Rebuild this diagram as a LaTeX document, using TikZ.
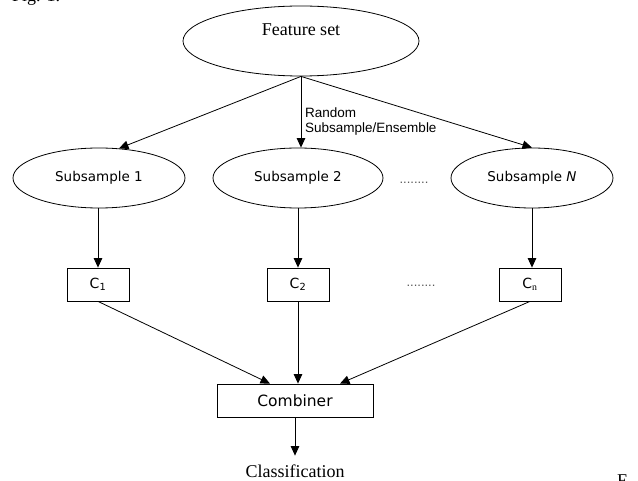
\documentclass[tikz,border=0pt]{standalone}
\usepackage{fontspec}
\setmainfont{DejaVu Sans}
\newfontfamily\timesf{Liberation Serif}
\newfontfamily\arialf{Liberation Sans}
\usetikzlibrary{arrows.meta,shapes.geometric}
\begin{document}
\begin{tikzpicture}[x=1pt,y=-1pt,
  ell/.style={draw, ellipse, line width=0.8pt, inner sep=0pt, font=\fontsize{13.5}{16}\selectfont},
  boxnode/.style={draw, rectangle, line width=0.8pt, inner sep=0pt},
  arr/.style={-{Triangle[length=9.5pt,width=8.5pt]}, line width=0.8pt},
  dotsnode/.style={font=\arialf\fontsize{13}{15}\selectfont, text=black!65, anchor=base, inner sep=0pt},
  serifbig/.style={font=\timesf\fontsize{18}{20}\selectfont, inner sep=0pt}]
\useasboundingbox (0,0) rectangle (638,481);
\clip (0,0) rectangle (638,481);
\fill[white] (0,0) rectangle (638,481);
% top ellipse
\node[ell, minimum width=236pt, minimum height=70pt] (fs) at (301,41) {};
\node[serifbig] (fst) at (301,30) {Feature set};
% subsamples
\node[ell, minimum width=172pt, minimum height=60pt] (s1) at (99,178) {Subsample 1};
\node[ell, minimum width=170pt, minimum height=60pt] (s2) at (298,178) {Subsample 2};
\node[ell, minimum width=162pt, minimum height=60pt] (s3) at (532,178) {Subsample \textit{N}};
\node[dotsnode] (d1) at (414,184) {........};
% label
\node[font=\arialf\fontsize{13.5}{14.5}\selectfont, align=left, anchor=north west, inner sep=0pt] (lab) at (305,108) {Random\\Subsample/Ensemble};
% classifiers
\node[boxnode, minimum width=62pt, minimum height=33pt, font=\fontsize{14}{16}\selectfont] (c1) at (98,284.5) {C\textsubscript{1}};
\node[boxnode, minimum width=62pt, minimum height=33pt, font=\fontsize{14}{16}\selectfont] (c2) at (298,284.5) {C\textsubscript{2}};
\node[boxnode, minimum width=62pt, minimum height=33pt, font=\fontsize{14}{16}\selectfont] (c3) at (530,284.5) {C\textsubscript{\timesf n}};
\node[dotsnode] (d2) at (421,287) {........};
% combiner
\node[boxnode, minimum width=156pt, minimum height=33pt, font=\fontsize{15.5}{18}\selectfont] (comb) at (295,400.5) {Combiner};
\node[serifbig, anchor=base] (cls) at (295,477.5) {Classification};
% fragments of surrounding captions
\node[serifbig, anchor=base west] (fig) at (12,1.5) {Fig. 1.};
\node[serifbig, anchor=north west] (fr) at (617,475) {F};
% connectors
\draw[arr] (fs.south) -- (s1.56);
\draw[arr] (fs.south) -- (fs.south |- s2.north);
\draw[arr] (fs.south) -- (s3.north);
\draw[arr] (s1.south -| c1.north) -- (c1.north);
\draw[arr] (s2.south -| c2.north) -- (c2.north);
\draw[arr] (s3.south) -- (s3.south |- c3.north);
\draw[arr] (c1.south) -- ([xshift=-25pt]comb.north);
\draw[arr] (c2.south) -- (c2.south |- comb.north);
\draw[arr] (c3.south) -- ([xshift=45pt]comb.north);
\draw[arr] (comb.south) -- ([yshift=9pt]cls.north);
\end{tikzpicture}
\end{document}
